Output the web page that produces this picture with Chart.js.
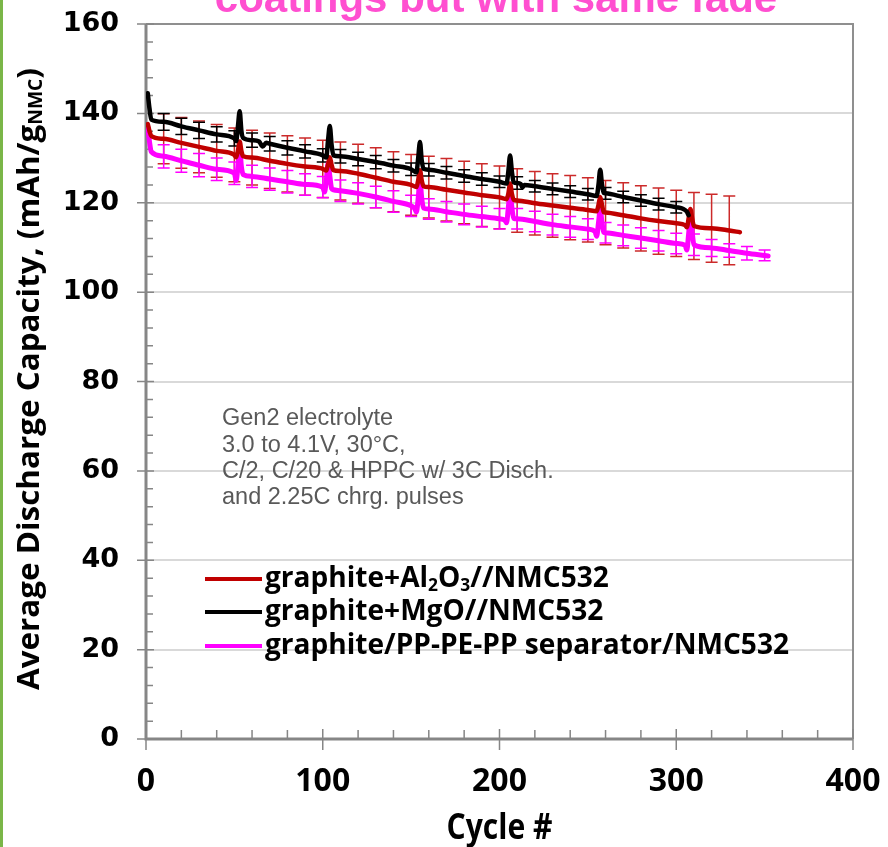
<!DOCTYPE html>
<html>
<head>
<meta charset="utf-8">
<script src="https://cdn.jsdelivr.net/npm/chart.js@4.4.1/dist/chart.umd.min.js"></script>
<style>
  html, body { margin: 0; padding: 0; background: #fff; }
</style>
</head>
<body>
<canvas id="capChart" width="888" height="847"></canvas>
<script>
// capacity (mAh/g NMC) vs cycle number
const al2o3Cycles = [1, 2, 3, 10, 20, 30, 40, 50, 51, 52, 53, 54, 55, 60, 70, 80, 90, 100, 102, 103, 104, 105, 106, 110, 120, 130, 140, 150, 153, 154, 155, 156, 157, 160, 170, 180, 190, 200, 204, 205, 206, 207, 208, 210, 220, 230, 240, 250, 255, 256, 257, 258, 259, 260, 270, 280, 290, 300, 305, 306, 307, 308, 309, 310, 320, 330, 336];
const al2o3Cap = [137.6, 136.0, 134.9, 134.3, 133.4, 132.5, 131.6, 130.7, 130.2, 131.6, 133.7, 131.5, 130.4, 130.1, 129.4, 128.7, 128.1, 127.6, 127.2, 128.6, 130.2, 128.5, 127.3, 127.1, 126.5, 125.6, 124.7, 124.0, 123.5, 125.0, 127.3, 125.0, 123.7, 123.5, 122.9, 122.3, 121.7, 121.2, 120.8, 122.0, 124.3, 122.0, 120.7, 120.5, 119.9, 119.4, 118.9, 118.4, 118.1, 119.5, 121.3, 119.5, 117.9, 117.8, 117.2, 116.5, 115.9, 115.4, 115.0, 114.5, 116.5, 118.6, 116.5, 114.8, 114.3, 113.8, 113.4];

const mgoCycles = [1, 2, 3, 10, 20, 30, 40, 50, 51, 52, 53, 54, 55, 60, 64, 66, 68, 70, 80, 90, 100, 102, 103, 104, 105, 106, 110, 120, 130, 140, 150, 153, 154, 155, 156, 157, 160, 170, 180, 190, 200, 204, 205, 206, 207, 208, 210, 212, 213, 214, 220, 230, 240, 250, 255, 256, 257, 258, 259, 260, 270, 280, 290, 300, 304, 306, 307];
const mgoCap = [144.5, 141.0, 138.6, 138.1, 137.1, 136.2, 135.3, 134.4, 133.8, 137.0, 140.5, 136.0, 134.5, 134.0, 133.7, 132.6, 133.4, 133.2, 132.3, 131.5, 130.6, 130.1, 134.0, 137.2, 133.0, 130.6, 130.4, 129.8, 129.1, 128.3, 127.5, 126.8, 130.0, 133.6, 129.5, 127.6, 127.4, 126.7, 126.0, 125.3, 124.7, 124.3, 127.0, 130.6, 127.0, 124.6, 124.4, 124.2, 123.4, 124.0, 123.7, 123.1, 122.5, 121.9, 121.5, 124.0, 127.4, 124.0, 122.2, 122.1, 121.3, 120.5, 119.7, 119.0, 118.6, 118.0, 117.2];

const sepCycles = [1, 2, 3, 10, 20, 30, 40, 50, 51, 52, 53, 54, 55, 60, 70, 80, 90, 100, 101, 102, 103, 104, 105, 106, 110, 120, 130, 140, 150, 152, 153, 154, 155, 156, 157, 160, 170, 180, 190, 200, 203, 204, 205, 206, 207, 208, 210, 220, 230, 240, 250, 254, 255, 256, 257, 258, 259, 260, 270, 280, 290, 300, 305, 306, 307, 308, 309, 310, 320, 330, 340, 350, 352];
const sepCap = [137.0, 133.6, 131.4, 130.4, 129.4, 128.4, 127.5, 126.6, 125.0, 128.0, 132.1, 128.0, 126.3, 125.9, 125.3, 124.7, 124.1, 123.5, 122.4, 125.0, 128.8, 126.0, 123.2, 122.9, 122.7, 122.1, 121.3, 120.3, 119.3, 118.7, 117.9, 121.0, 125.1, 121.0, 118.8, 118.6, 118.0, 117.4, 116.9, 116.4, 116.1, 115.5, 119.0, 122.5, 119.0, 116.5, 116.4, 115.8, 115.1, 114.6, 114.1, 113.6, 112.5, 115.5, 118.6, 115.5, 113.4, 113.3, 112.7, 112.1, 111.5, 110.9, 110.5, 109.4, 113.0, 116.8, 113.5, 110.6, 109.9, 109.3, 108.7, 108.2, 108.1];

// error bars: cycles where a bar is drawn and its half height (mAh/g)
const al2o3ErrCycles = [10, 20, 30, 40, 50, 60, 70, 80, 90, 100, 110, 120, 130, 140, 150, 160, 170, 180, 190, 200, 210, 220, 230, 240, 250, 260, 270, 280, 290, 300, 310, 320, 330];
const al2o3Err = [5.6, 5.7, 5.8, 5.9, 6.0, 6.1, 6.2, 6.3, 6.4, 6.4, 6.5, 6.6, 6.7, 6.7, 6.8, 6.9, 7.0, 7.0, 7.0, 7.0, 7.1, 7.1, 7.1, 7.2, 7.2, 7.2, 7.3, 7.3, 7.4, 7.4, 7.5, 7.6, 7.7];
const mgoErrCycles = [10, 20, 30, 40, 50, 60, 70, 80, 90, 100, 110, 120, 130, 140, 150, 160, 170, 180, 190, 200, 210, 220, 230, 240, 250, 260, 270, 280, 290, 300];
const mgoErr = [1.9, 1.8, 1.8, 1.7, 1.7, 1.6, 1.6, 1.6, 1.5, 1.5, 1.5, 1.5, 1.5, 1.4, 1.4, 1.4, 1.4, 1.4, 1.4, 1.3, 1.4, 1.3, 1.3, 1.3, 1.3, 1.3, 1.3, 1.3, 1.3, 1.3];
const sepErrCycles = [10, 20, 30, 40, 50, 60, 70, 80, 90, 100, 110, 120, 130, 140, 150, 160, 170, 180, 190, 200, 210, 220, 230, 240, 250, 260, 270, 280, 290, 300, 310, 320, 330, 340, 350];
const sepErr = [2.6, 2.6, 2.6, 2.5, 2.5, 2.5, 2.5, 2.5, 2.4, 2.4, 2.4, 2.4, 2.4, 2.4, 2.4, 2.3, 2.3, 2.3, 2.3, 2.3, 2.3, 2.3, 2.3, 2.3, 2.3, 2.3, 2.3, 2.3, 2.3, 2.3, 2.4, 1.9, 1.5, 1.5, 1.2];

const xTicks = [0, 100, 200, 300, 400];
const yTicks = [0, 20, 40, 60, 80, 100, 120, 140, 160];

// text pieces, [text, isSubscript]
const legendRows = [
    [['graphite+Al', false], ['2', true], ['O', false], ['3', true], ['//NMC532', false]],
    [['graphite+MgO//NMC532', false]],
    [['graphite/PP-PE-PP separator/NMC532', false]]
];
const yTitleParts = [['Average Discharge Capacity, (mAh/g', false], ['NMC', true], [')', false]];
const xTitle = 'Cycle #';
const topTitle = 'coatings but with same fade';
const noteLines = ['Gen2 electrolyte', '3.0 to 4.1V, 30°C,', 'C/2, C/20 & HPPC w/ 3C Disch.', 'and 2.25C chrg. pulses'];

const CAL = '"Open Sans", "Noto Sans", sans-serif';
const lineColors = ['#c00000', '#000000', '#ff00ff'];

const toPoints = (xs, ys) => xs.map((x, i) => ({ x: x, y: ys[i] }));

const errorSets = [
    { ds: 0, cycles: al2o3ErrCycles, half: al2o3Err, color: '#cc2a2a' },
    { ds: 1, cycles: mgoErrCycles, half: mgoErr, color: '#000000' },
    { ds: 2, cycles: sepErrCycles, half: sepErr, color: '#ff00ff' }
];

function setFont(ctx, size, sub) {
    ctx.font = 'bold ' + (sub ? Math.round(size * 0.62) : size) + 'px ' + CAL;
}
function piecesWidth(ctx, pieces, size) {
    let w = 0;
    pieces.forEach(p => { setFont(ctx, size, p[1]); w += ctx.measureText(p[0]).width; });
    return w;
}
// normal + subscript pieces, squeezed sideways by sx (Calibri is narrower than what we have)
function drawPieces(ctx, pieces, x, y, size, sx) {
    ctx.save();
    ctx.translate(x, y);
    ctx.scale(sx, 1);
    let cx = 0;
    pieces.forEach(p => {
        setFont(ctx, size, p[1]);
        ctx.fillText(p[0], cx, p[1] ? size * 0.22 : 0);
        cx += ctx.measureText(p[0]).width;
    });
    ctx.restore();
}

const framePlugin = {
    id: 'frame',
    beforeDatasetsDraw(chart) {
        const { ctx, chartArea: a, scales: { x, y } } = chart;
        ctx.save();
        // top / right border
        ctx.strokeStyle = '#8f8f8f';
        ctx.lineWidth = 2;
        ctx.beginPath();
        ctx.moveTo(a.left, a.top); ctx.lineTo(a.right, a.top); ctx.lineTo(a.right, a.bottom);
        ctx.stroke();
        // axes
        ctx.strokeStyle = '#868686';
        ctx.lineWidth = 3;
        ctx.beginPath();
        ctx.moveTo(a.left, a.top); ctx.lineTo(a.left, a.bottom); ctx.lineTo(a.right, a.bottom);
        ctx.stroke();
        // tick marks
        ctx.lineWidth = 1.5;
        ctx.beginPath();
        xTicks.forEach(v => {
            const px = x.getPixelForValue(v);
            ctx.moveTo(px, a.bottom - 10); ctx.lineTo(px, a.bottom + 11);
        });
        for (let v = 20; v < 400; v += 20) {
            if (v % 100 === 0) continue;
            const px = x.getPixelForValue(v);
            ctx.moveTo(px, a.bottom); ctx.lineTo(px, a.bottom - 9);
        }
        yTicks.forEach(v => {
            const py = y.getPixelForValue(v);
            ctx.moveTo(a.left - 9, py); ctx.lineTo(a.left + 8, py);
        });
        for (let v = 4; v < 160; v += 4) {
            if (v % 20 === 0) continue;
            const py = y.getPixelForValue(v);
            ctx.moveTo(a.left, py); ctx.lineTo(a.left + 7, py);
        }
        ctx.stroke();

        // error bars, under the lines
        ctx.lineWidth = 1.5;
        errorSets.forEach(set => {
            const src = chart.data.datasets[set.ds].data;
            ctx.strokeStyle = set.color;
            ctx.beginPath();
            set.cycles.forEach((c, i) => {
                const pt = src.find(p => p.x === c);
                if (!pt) return;
                const px = x.getPixelForValue(c);
                const top = y.getPixelForValue(pt.y + set.half[i]);
                const bot = y.getPixelForValue(pt.y - set.half[i]);
                ctx.moveTo(px, top); ctx.lineTo(px, bot);
                ctx.moveTo(px - 6, top); ctx.lineTo(px + 6, top);
                ctx.moveTo(px - 6, bot); ctx.lineTo(px + 6, bot);
            });
            ctx.stroke();
        });
        ctx.restore();
    }
};

const textPlugin = {
    id: 'texts',
    beforeDraw(chart) {
        const ctx = chart.ctx;
        ctx.save();
        ctx.fillStyle = '#ffffff';
        ctx.fillRect(0, 0, chart.width, chart.height);
        ctx.fillStyle = '#7ab648';
        ctx.fillRect(0, 0, 3, chart.height);
        ctx.restore();
    },
    afterDraw(chart) {
        const { ctx, chartArea: a } = chart;
        ctx.save();
        ctx.textBaseline = 'alphabetic';
        ctx.textAlign = 'left';

        // title, mostly cut off at the top
        ctx.fillStyle = '#ff4fd0';
        ctx.font = 'bold 42px "Liberation Sans", Arial, sans-serif';
        ctx.textAlign = 'center';
        ctx.fillText(topTitle, 496, 12);
        ctx.textAlign = 'left';

        // axis titles
        ctx.fillStyle = '#000';
        ctx.textBaseline = 'middle';
        const xPieces = [[xTitle, false]];
        const xw = piecesWidth(ctx, xPieces, 35);
        drawPieces(ctx, xPieces, (a.left + a.right) / 2 - xw * 0.86 / 2, 829, 35, 0.86);

        ctx.save();
        ctx.translate(30, 379);
        ctx.rotate(-Math.PI / 2);
        const yw = piecesWidth(ctx, yTitleParts, 31);
        const ysx = 622 / yw;
        drawPieces(ctx, yTitleParts, -311, 0, 31, ysx);
        ctx.restore();

        // note
        ctx.fillStyle = '#595959';
        ctx.font = '23.5px "Liberation Sans", Arial, sans-serif';
        noteLines.forEach((t, i) => ctx.fillText(t, 222, 419 + i * 26.3));

        // legend
        const rowY = [579, 612, 646];
        const lsx = 524 / piecesWidth(ctx, legendRows[2], 29);
        legendRows.forEach((row, i) => {
            ctx.strokeStyle = lineColors[i];
            ctx.lineWidth = 4;
            ctx.beginPath();
            ctx.moveTo(205, rowY[i]); ctx.lineTo(262, rowY[i]);
            ctx.stroke();
            ctx.fillStyle = '#000';
            drawPieces(ctx, row, 265, rowY[i], 29, lsx);
        });
        ctx.restore();
    }
};

new Chart(document.getElementById('capChart'), {
    type: 'line',
    data: {
        datasets: [
            { label: 'graphite+Al2O3//NMC532', data: toPoints(al2o3Cycles, al2o3Cap), borderColor: lineColors[0], borderWidth: 4.5, order: 2 },
            { label: 'graphite+MgO//NMC532', data: toPoints(mgoCycles, mgoCap), borderColor: lineColors[1], borderWidth: 4.5, order: 1 },
            { label: 'graphite/PP-PE-PP separator/NMC532', data: toPoints(sepCycles, sepCap), borderColor: lineColors[2], borderWidth: 5, order: 3 }
        ]
    },
    options: {
        responsive: false,
        animation: false,
        devicePixelRatio: 1,
        layout: { padding: { left: 0, right: 35, top: 24, bottom: 0 } },
        elements: {
            point: { radius: 0 },
            line: { cubicInterpolationMode: 'monotone', borderCapStyle: 'round', borderJoinStyle: 'round' }
        },
        plugins: {
            legend: { display: false },
            tooltip: { enabled: false }
        },
        scales: {
            x: {
                type: 'linear',
                min: 0,
                max: 400,
                afterFit: s => { s.height = 108; s.paddingLeft = 0; s.paddingRight = 0; },
                afterBuildTicks: s => { s.ticks = xTicks.map(v => ({ value: v })); },
                grid: { display: false, drawTicks: false },
                border: { display: false },
                ticks: { padding: 24, color: '#000', maxRotation: 0, font: { family: CAL, size: 32, weight: 'bold' } }
            },
            y: {
                min: 0,
                max: 160,
                afterFit: s => { s.width = 146; s.paddingTop = 0; s.paddingBottom = 0; },
                afterBuildTicks: s => { s.ticks = yTicks.map(v => ({ value: v })); },
                grid: { color: '#d9d9d9', lineWidth: 2, drawTicks: false },
                border: { display: false },
                ticks: { padding: 27, color: '#000', font: { family: '"DejaVu Sans", Verdana, sans-serif', size: 27, weight: 'bold' } }
            }
        }
    },
    plugins: [textPlugin, framePlugin]
});
</script>
</body>
</html>
